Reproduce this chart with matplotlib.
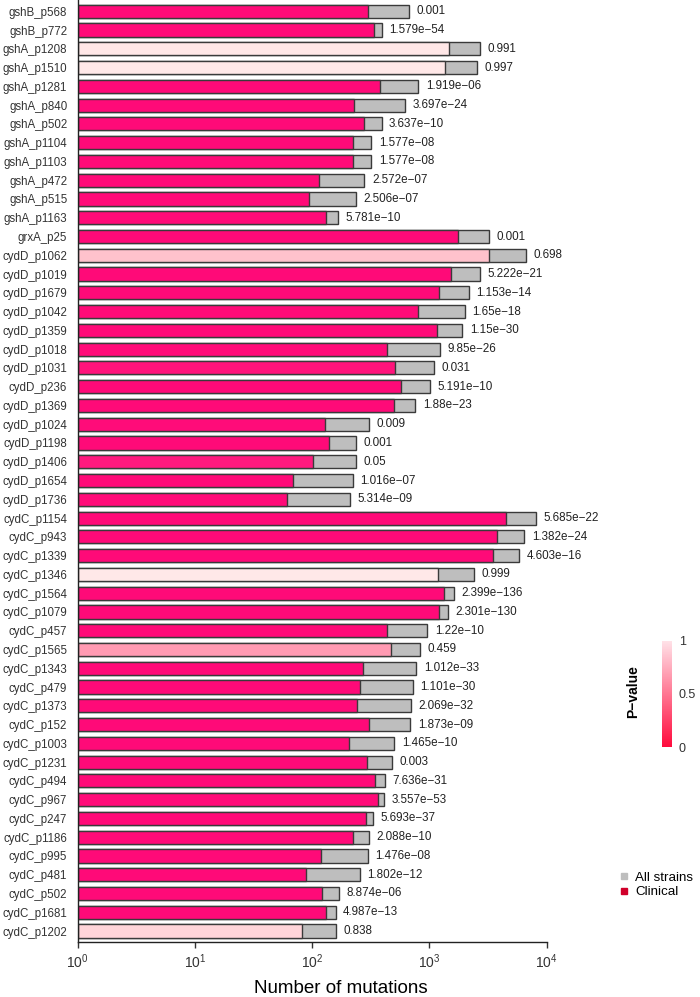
import numpy as np
import matplotlib
matplotlib.use("Agg")
import matplotlib.pyplot as plt
from matplotlib.colors import LinearSegmentedColormap, Normalize
from matplotlib.lines import Line2D
from matplotlib.ticker import LogLocator, LogFormatterSciNotation, NullLocator

plt.rcParams['font.family'] = ['Liberation Sans', 'DejaVu Sans']
plt.rcParams['mathtext.fontset'] = 'custom'
plt.rcParams['mathtext.rm'] = 'Liberation Sans'
plt.rcParams['mathtext.it'] = 'Liberation Sans:italic'

# data (top to bottom)
sites = ["gshB_p568", "gshB_p772", "gshA_p1208", "gshA_p1510", "gshA_p1281",
         "gshA_p840", "gshA_p502", "gshA_p1104", "gshA_p1103", "gshA_p472",
         "gshA_p515", "gshA_p1163", "grxA_p25",
         "cydD_p1062", "cydD_p1019", "cydD_p1679", "cydD_p1042", "cydD_p1359",
         "cydD_p1018", "cydD_p1031", "cydD_p236", "cydD_p1369", "cydD_p1024",
         "cydD_p1198", "cydD_p1406", "cydD_p1654", "cydD_p1736",
         "cydC_p1154", "cydC_p943", "cydC_p1339", "cydC_p1346", "cydC_p1564",
         "cydC_p1079", "cydC_p457", "cydC_p1565", "cydC_p1343", "cydC_p479",
         "cydC_p1373", "cydC_p152", "cydC_p1003", "cydC_p1231", "cydC_p494",
         "cydC_p967", "cydC_p247", "cydC_p1186", "cydC_p995", "cydC_p481",
         "cydC_p502", "cydC_p1681", "cydC_p1202"]

all_strains = [670, 391, 2692, 2537, 800, 623, 389, 319, 319, 278,
               236, 166, 3234,
               6618, 2710, 2168, 1991, 1900, 1233, 1095, 1000, 754, 305,
               236, 234, 222, 210,
               8054, 6435, 5800, 2392, 1603, 1434, 954, 831, 769, 724,
               697, 683, 499, 479, 418, 409, 326, 305, 299, 255,
               169, 158, 158]

clinical = [299, 339, 1462, 1359, 381, 229, 276, 224, 224, 115,
            94, 132, 1735,
            3234, 1530, 1208, 800, 1154, 434, 505, 576, 495, 128,
            139, 101, 69, 61,
            4519, 3786, 3453, 1194, 1343, 1202, 437, 467, 271, 255,
            241, 305, 207, 295, 343, 367, 286, 221, 119, 88,
            122, 132, 82]

pval_labels = ["0.001", "1.579e-54", "0.991", "0.997", "1.919e-06",
               "3.697e-24", "3.637e-10", "1.577e-08", "1.577e-08", "2.572e-07",
               "2.506e-07", "5.781e-10", "0.001",
               "0.698", "5.222e-21", "1.153e-14", "1.65e-18", "1.15e-30",
               "9.85e-26", "0.031", "5.191e-10", "1.88e-23", "0.009",
               "0.001", "0.05", "1.016e-07", "5.314e-09",
               "5.685e-22", "1.382e-24", "4.603e-16", "0.999", "2.399e-136",
               "2.301e-130", "1.22e-10", "0.459", "1.012e-33", "1.101e-30",
               "2.069e-32", "1.873e-09", "1.465e-10", "0.003", "7.636e-31",
               "3.557e-53", "5.693e-37", "2.088e-10", "1.476e-08", "1.802e-12",
               "8.874e-06", "4.987e-13", "0.838"]

pvals = [float(s) for s in pval_labels]

# colours
bar_cmap = LinearSegmentedColormap.from_list(
    "bars", [(0, "#FF0A78"), (0.46, "#FF9AB2"), (0.7, "#FFC2CC"), (1, "#FFE8E8")])
cbar_cmap = LinearSegmentedColormap.from_list("cbar", ["#FF0A3C", "#FFE2E8"])
grey = "#BEBEBE"
edge = "#3A3A3A"

W, H = 700, 997
fig = plt.figure(figsize=(W / 100, H / 100), dpi=100)

ax_l, ax_r = 77.7, 546.7
ax_t, ax_b = 0.0, 942.3
ax = fig.add_axes([ax_l / W, 1 - ax_b / H, (ax_r - ax_l) / W, (ax_b - ax_t) / H])

y = np.arange(len(sites))
ax.barh(y, all_strains, height=0.7, left=1, color=grey, edgecolor=edge, linewidth=1.0)
ax.barh(y, np.array(clinical) - 1, height=0.7, left=1,
        color=[bar_cmap(p) for p in pvals], edgecolor=edge, linewidth=1.0)

# p-value next to each bar
for yi, v, lab in zip(y, all_strains, pval_labels):
    ax.annotate(lab.replace("-", "\u2212"), (v, yi), xytext=(5.5, 0),
                textcoords="offset points", va="center", ha="left",
                fontsize=8.4, color="#222222")

ax.set_xscale("log")
ax.set_xlim(1, 1e4)
ax.set_ylim(49.6, -0.6)
ax.xaxis.set_major_locator(LogLocator(base=10, numticks=10))
ax.xaxis.set_major_formatter(LogFormatterSciNotation())
ax.xaxis.set_minor_locator(NullLocator())

ax.set_yticks(y)
ax.set_yticklabels(sites, fontsize=8.3, color="#333333")
ax.tick_params(axis="y", length=0, pad=7.5)
ax.tick_params(axis="x", length=4, width=1, labelsize=10, colors="#333333", pad=3)
for s in ["top", "right"]:
    ax.spines[s].set_visible(False)
for s in ["left", "bottom"]:
    ax.spines[s].set_linewidth(1.0)
    ax.spines[s].set_color("#222222")

ax.set_xlabel("Number of mutations", fontsize=13.5, color="black")
ax.xaxis.set_label_coords((341 - ax_l) / (ax_r - ax_l), -(988 - ax_b) / (ax_b - ax_t))
ax.xaxis.label.set_verticalalignment("center")

# colorbar
cb_x0, cb_x1, cb_y0, cb_y1 = 661.7, 671.7, 640.7, 747.3
cax = fig.add_axes([cb_x0 / W, 1 - cb_y1 / H, (cb_x1 - cb_x0) / W, (cb_y1 - cb_y0) / H])
sm = plt.cm.ScalarMappable(norm=Normalize(0, 1), cmap=cbar_cmap)
cb = fig.colorbar(sm, cax=cax, ticks=[0, 0.5, 1])
cb.outline.set_visible(False)
cb.ax.set_yticklabels(["0", "0.5", "1"])
cb.ax.tick_params(length=0, labelsize=9, colors="#333333", pad=5)
fig.text(633 / W, 1 - 692 / H, "P\u2212value", rotation=90, ha="center", va="center",
         fontsize=10, fontweight="bold")

# legend
handles = [Line2D([], [], marker="s", linestyle="none", markersize=4.5, color=grey),
           Line2D([], [], marker="s", linestyle="none", markersize=4.5, color="#D0002A")]
fig.legend(handles, ["All strains", "Clinical"], loc="center left",
           bbox_to_anchor=(612 / W, 1 - 885 / H), frameon=False, fontsize=9.6,
           handlelength=0.8, handletextpad=0.45, labelspacing=0.15, borderpad=0)

fig.savefig("out.png", dpi=100)
